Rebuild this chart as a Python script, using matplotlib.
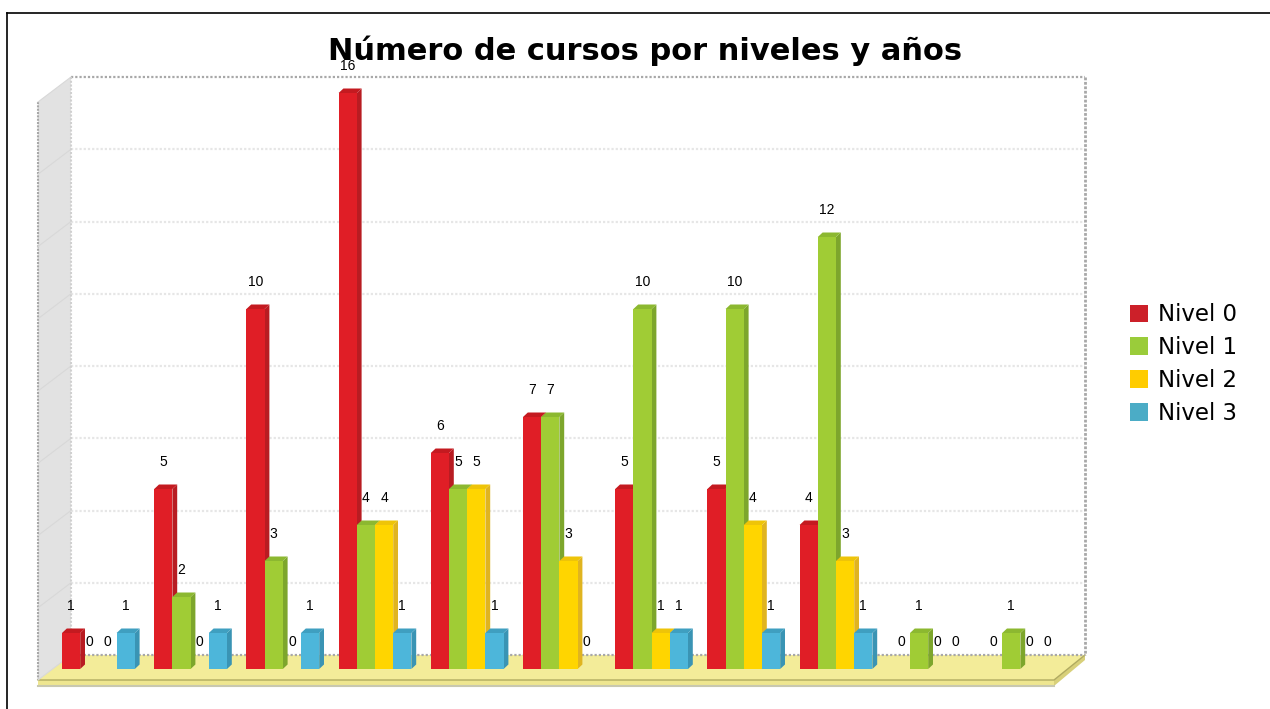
import matplotlib
matplotlib.use('Agg')
from matplotlib import pyplot as plt
from matplotlib.patches import Polygon, Patch

# Data
years = list(range(11))
nivel_0 = [1, 5, 10, 16, 6, 7, 5, 5, 4, 0, 0]
nivel_1 = [0, 2, 3, 4, 5, 7, 10, 10, 12, 1, 1]
nivel_2 = [0, 0, 0, 4, 5, 3, 1, 4, 3, 0, 0]
nivel_3 = [1, 1, 1, 1, 1, 0, 1, 1, 1, 0, 0]
series = [nivel_0, nivel_1, nivel_2, nivel_3]
names = ['Nivel 0', 'Nivel 1', 'Nivel 2', 'Nivel 3']
y_ticks = [0, 2, 4, 6, 8, 10, 12, 14, 16]

front = ['#e01e26', '#a0cc35', '#ffd500', '#4db6da']
side = ['#b81c22', '#7da62c', '#e0b420', '#3a94b4']
top = ['#c41a20', '#8cb830', '#eec408', '#3f9fc0']
legend_cols = ['#cc2029', '#9acc3a', '#ffcc00', '#4bacc6']

W, H = 1270, 709
fig = plt.figure(figsize=(W / 100, H / 100), dpi=100)

# background axes in pixels, for the box of the 3D chart
bg = fig.add_axes([0, 0, 1, 1])
bg.set_xlim(0, W)
bg.set_ylim(H, 0)
bg.axis('off')

# frame of the picture
bg.plot([7, 7], [13, H], color='black', lw=1.2)
bg.plot([7, W], [13, 13], color='black', lw=1.2)

# left wall
bg.add_patch(Polygon([(38, 102), (71, 77), (71, 655), (38, 680)],
                     fc='#e2e2e2', ec='none'))
bg.plot([38, 38], [102, 680], color='#a8a8a8', lw=1.5, ls=(0, (1, 0.6)))

# floor
bg.add_patch(Polygon([(38, 680), (71, 655), (1085, 655), (1054, 680)],
                     fc='#f3ec99', ec='none'))
bg.add_patch(Polygon([(38, 680), (1054, 680), (1054, 686), (38, 686)],
                     fc='#eee690', ec='none'))
bg.add_patch(Polygon([(1054, 680), (1085, 655), (1085, 660), (1054, 686)],
                     fc='#d8d07a', ec='none'))
bg.plot([38, 1054, 1085], [680, 680, 655], color='#b0aa60', lw=1)
bg.plot([38, 1054], [686, 686], color='#c8c8b0', lw=1.5)

# walls, gridlines
back_unit = (655 - 77) / 16
for v in y_ticks:
    yb = 655 - v * back_unit
    col = '#a8a8a8' if v in (0, 16) else '#e6e6e6'
    bg.plot([71, 1085], [yb, yb], color=col, lw=1.6, ls=(0, (1, 0.9)))
    bg.plot([38, 71], [yb + 25, yb], color='#d8d8d8', lw=0.8)
bg.plot([71, 71], [77, 655], color='#d0d0d0', lw=1.5, ls=(0, (1, 0.8)))
bg.plot([1085, 1085], [77, 655], color='#a8a8a8', lw=2, ls=(0, (1, 0.6)))

# chart axes: x in groups, y in course counts
x0, x1 = 38, 1054
y0, y16 = 669, 93
ax = fig.add_axes([x0 / W, 1 - y0 / H, (x1 - x0) / W, (y0 - y16) / H])
ax.patch.set_alpha(0)
ax.axis('off')
group_px = 92.2
ax.set_xlim((x0 - 62) / group_px, (x1 - 62) / group_px)
ax.set_ylim(0, 16)

bw = 18.2 / group_px
dx = 4.8 / group_px
dy = 4.5 / 36

for s, vals in enumerate(series):
    for g, v in zip(years, vals):
        left = g + s * bw
        if v > 0:
            z = 3 + s
            ax.bar(left, v, bw, align='edge', color=front[s], zorder=z + 0.5, clip_on=False)
            ax.add_patch(Polygon([(left + bw, 0), (left + bw + dx, dy), (left + bw + dx, v + dy), (left + bw, v)],
                                 fc=side[s], ec='none', zorder=z, clip_on=False))
            ax.add_patch(Polygon([(left, v), (left + dx, v + dy), (left + bw + dx, v + dy), (left + bw, v)],
                                 fc=top[s], ec='none', zorder=z, clip_on=False))
        ax.annotate(str(v), (left + bw / 2, v), xytext=(0, 19.4), textcoords='offset points',
                    ha='center', va='center', fontsize=10, family='Liberation Sans',
                    color='black', zorder=20, annotation_clip=False)

fig.text(645 / W, 1 - 51 / H, 'Número de cursos por niveles y años', ha='center', va='center',
         fontsize=22, fontweight='bold', family='DejaVu Sans', color='black')

handles = [Patch(fc=c, ec='none') for c in legend_cols]
fig.legend(handles, names, loc='center left', bbox_to_anchor=(1130 / W, 1 - 364 / H), frameon=False,
           fontsize=16.5, handlelength=0.79, handleheight=0.79, handletextpad=0.44,
           labelspacing=0.43, borderpad=0, borderaxespad=0)

fig.savefig('out.png', dpi=100)
